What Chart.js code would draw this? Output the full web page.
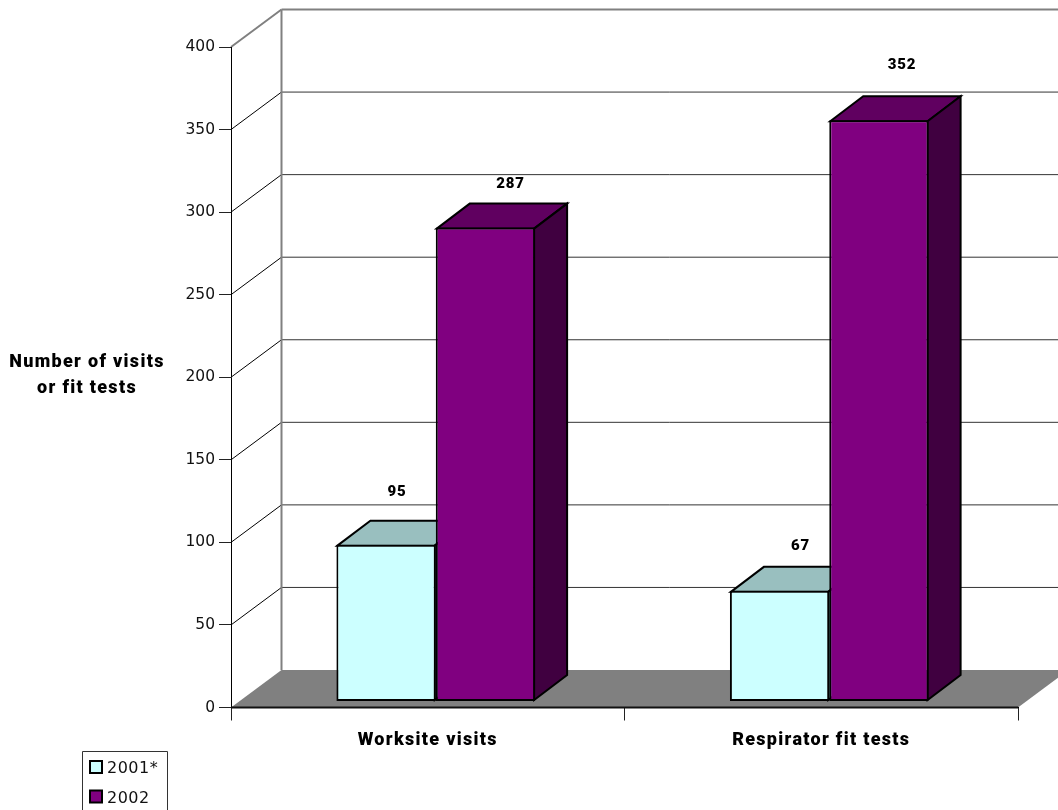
<!DOCTYPE html>
<html>
<head>
<meta charset="utf-8">
<script src="https://cdn.jsdelivr.net/npm/chart.js@4"></script>
<style>
html, body { margin: 0; padding: 0; background: #fff; overflow: hidden; }
canvas { display: block; }
</style>
</head>
<body>
<canvas id="barChart" width="1058" height="810"></canvas>
<script>
var categories = ['Worksite visits', 'Respirator fit tests'];
var series2001 = [95, 67];
var series2002 = [287, 352];
var seriesNames = ['2001*', '2002'];
var yTicks = [0, 50, 100, 150, 200, 250, 300, 350, 400];
var yTitle = ['Number of visits', 'or fit tests'];

// hand placed value labels, offset from the front top centre of each bar
var labelShift = [[[11, -52], [21, -45]], [[25, -43], [23, -55]]];

var boldFont = '900 18px Roboto';
var boldSpacing = '1.3px';
var depthX = 33, depthY = -25;      // bar depth
var wallX = 50.5, wallY = -37.5;    // chart depth
var barShiftX = 8, barShiftY = -6;

function poly(ctx, pts, fill, stroke, width) {
    ctx.beginPath();
    ctx.moveTo(pts[0][0], pts[0][1]);
    for (var i = 1; i < pts.length; i++) ctx.lineTo(pts[i][0], pts[i][1]);
    if (fill) {
        ctx.closePath();
        ctx.fillStyle = fill;
        ctx.fill();
    }
    if (stroke) {
        ctx.strokeStyle = stroke;
        ctx.lineWidth = width;
        ctx.stroke();
    }
}

var box3d = {
    id: 'box3d',
    beforeDraw: function(chart) {
        var ctx = chart.ctx, a = chart.chartArea, y = chart.scales.y;
        var w = chart.width;
        var bottom = y.getPixelForValue(0);
        // floor
        poly(ctx, [[a.left, bottom], [a.left + wallX, bottom + wallY], [a.right + wallX, bottom + wallY], [a.right, bottom]], '#808080');
        // grid lines on side and back wall
        yTicks.forEach(function(v) {
            if (v === 0) return;
            var py = y.getPixelForValue(v);
            var top = v === 400;
            poly(ctx, [[a.left, py], [a.left + wallX, py + wallY]], null, top ? '#808080' : '#000', top ? 2 : 1);
            poly(ctx, [[a.left + wallX, py + wallY], [w, py + wallY]], null, top ? '#808080' : '#333', top ? 2 : 1);
        });
        poly(ctx, [[a.left + wallX, y.getPixelForValue(400) + wallY], [a.left + wallX, bottom + wallY]], null, '#808080', 2);
    },
    beforeDatasetsDraw: function(chart) {
        var ctx = chart.ctx;
        ctx.save();
        ctx.translate(barShiftX, barShiftY);
        chart.data.datasets.forEach(function(ds, i) {
            chart.getDatasetMeta(i).data.forEach(function(el) {
                // strokes run along the middle of the bar's inset border
                var l = el.x - el.width / 2 + 1, r = el.x + el.width / 2 - 1;
                var t = el.y + 1, b = el.base - 1;
                poly(ctx, [[l, t], [l + depthX, t + depthY], [r + depthX, t + depthY], [r, t]], ds.topColor, '#000', 2);
                poly(ctx, [[r, t], [r + depthX, t + depthY], [r + depthX, b + depthY], [r, b]], ds.sideColor, '#000', 2);
            });
        });
    },
    afterDatasetsDraw: function(chart) {
        var ctx = chart.ctx;
        ctx.restore();
        var a = chart.chartArea, bottom = chart.scales.y.getPixelForValue(0);
        poly(ctx, [[a.left, bottom], [a.right, bottom]], null, '#111', 2);

        // value labels
        ctx.font = '900 15px Roboto';
        ctx.letterSpacing = '0.8px';
        ctx.fillStyle = '#000';
        ctx.textAlign = 'center';
        ctx.textBaseline = 'middle';
        chart.data.datasets.forEach(function(ds, i) {
            chart.getDatasetMeta(i).data.forEach(function(el, j) {
                var s = labelShift[i][j];
                ctx.fillText(ds.data[j], el.x + barShiftX + s[0], el.y + barShiftY + s[1]);
            });
        });

        // axis title
        ctx.font = boldFont;
        ctx.letterSpacing = boldSpacing;
        ctx.fillText(yTitle[0], 87, 362);
        ctx.fillText(yTitle[1], 87, 388);

        // legend
        poly(ctx, [[82.5, 812], [82.5, 751.5], [167.5, 751.5], [167.5, 812]], null, '#333', 1);
        ctx.textAlign = 'left';
        ctx.font = '16px "DejaVu Sans"';
        ctx.letterSpacing = '0.5px';
        chart.data.datasets.forEach(function(ds, i) {
            var ly = 761 + i * 29.5;
            ctx.fillStyle = ds.backgroundColor;
            ctx.fillRect(90, ly, 12, 12);
            ctx.strokeStyle = '#000';
            ctx.lineWidth = 2;
            ctx.strokeRect(90, ly, 12, 12);
            ctx.fillStyle = '#111';
            ctx.fillText(ds.label, 107, ly + 8);
        });
        ctx.letterSpacing = '0px';
    }
};

// the category labels are spaced out like the rest of the bold text
function spaceLabels(scale) {
    if (scale.spacedLabels) return;
    scale.spacedLabels = true;
    var drawLabels = scale.drawLabels;
    scale.drawLabels = function(area) {
        scale.ctx.letterSpacing = boldSpacing;
        drawLabels.call(scale, area);
        scale.ctx.letterSpacing = '0px';
    };
}

new Chart(document.getElementById('barChart').getContext('2d'), {
    type: 'bar',
    plugins: [box3d],
    data: {
        labels: categories,
        datasets: [
            { label: seriesNames[0], data: series2001, backgroundColor: '#CCFFFF', topColor: '#99BFBF', sideColor: '#669999', borderColor: '#000', borderWidth: 2, borderSkipped: false, clip: false },
            { label: seriesNames[1], data: series2002, backgroundColor: '#800080', topColor: '#600060', sideColor: '#400040', borderColor: '#000', borderWidth: 2, borderSkipped: false, clip: false }
        ]
    },
    options: {
        responsive: false,
        animation: false,
        devicePixelRatio: 1,
        layout: { padding: { top: 47, right: 40, left: 0, bottom: 0 } },
        plugins: { legend: { display: false }, tooltip: { enabled: false } },
        datasets: { bar: { barPercentage: 1, categoryPercentage: 0.505 } },
        scales: {
            x: {
                afterFit: function(scale) { scale.height = 102.5; spaceLabels(scale); },
                grid: { offset: true, drawOnChartArea: false, tickLength: 13, color: '#222', tickColor: '#222' },
                border: { color: '#000' },
                ticks: { color: '#000', font: { family: 'Roboto', size: 18, weight: '900' }, padding: 9, maxRotation: 0 }
            },
            y: {
                min: 0,
                max: 400,
                afterFit: function(scale) { scale.width = 231; },
                afterBuildTicks: function(scale) { scale.ticks = yTicks.map(function(v) { return { value: v }; }); },
                grid: { drawOnChartArea: false, tickLength: 12, color: '#222', tickColor: '#222' },
                border: { color: '#000' },
                ticks: { color: '#111', font: { family: 'DejaVu Sans', size: 15.5 }, padding: 4 }
            }
        }
    }
});
</script>
</body>
</html>
